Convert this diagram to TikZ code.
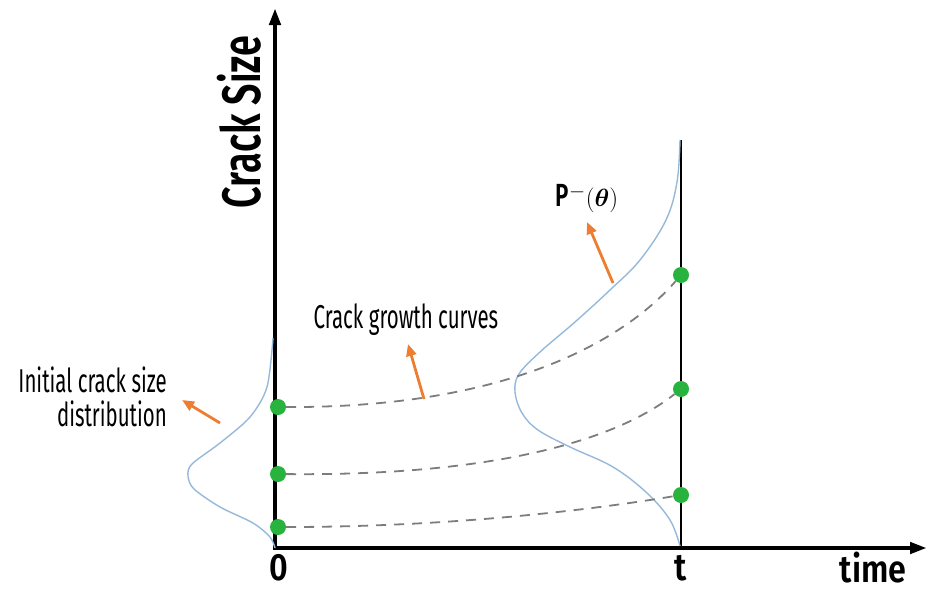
\documentclass[tikz,border=0pt]{standalone}
\usepackage{fontspec}
\usepackage{bm}
\usetikzlibrary{positioning,arrows.meta}
\newfontfamily\agency[FakeStretch=0.62]{Fira Sans}
\newfontfamily\agencybold[FakeStretch=0.7]{Fira Sans SemiBold}
\newfontfamily\agencywide[FakeStretch=0.85]{Fira Sans SemiBold}
\definecolor{crvblue}{RGB}{150,185,218}
\definecolor{pointer}{RGB}{237,125,49}
\definecolor{dotgreen}{RGB}{40,178,62}
\definecolor{growgray}{RGB}{125,125,125}
\tikzset{
  axisline/.style={line width=4.5pt, -{Triangle[length=17pt,width=11pt]}},
  dot/.style={circle, fill=dotgreen, inner sep=0pt, minimum size=16pt},
  growth/.style={growgray, line width=1.8pt, dash pattern=on 10pt off 8pt},
  pdfcurve/.style={crvblue, line width=1.4pt},
  pointarrow/.style={pointer, line width=2.8pt, -{Triangle[length=12pt,width=10pt]}},
  lbl/.style={font=\agency\fontsize{33}{34}\selectfont, inner sep=0pt},
  axlbl/.style={font=\agencywide\fontsize{38}{42}\selectfont, inner sep=0pt},
}
\begin{document}
\begin{tikzpicture}[x=1pt,y=-1pt]
\useasboundingbox (0,0) rectangle (928,592);
% axes
\coordinate (O) at (275,548);
\coordinate (ytip) at (275,8);
\coordinate (xtip) at (927,548);
\coordinate (tbot) at (681,548);
\coordinate (ttop) at (681,140);
\draw[axisline] ([xshift=-2.2pt]O) -- (xtip);
\draw[axisline] ([yshift=2.2pt]O) -- (ytip);
\draw[line width=2.4pt] (tbot) -- (ttop);
\node[font=\agencybold\fontsize{54}{60}\selectfont, rotate=90, inner sep=0pt] (ylab) at (239,122) {Crack Size};
\node[axlbl] (xlab) at (873,568) {time};
\node[axlbl] (zero) at (279,568) {0};
\node[axlbl] (tlab) at (681,568) {t};
% initial crack size distribution
\draw[pdfcurve] plot[smooth] coordinates {(273,338) (267,387) (250,417) (220,443) (192,464) (188,476) (194,489) (220,507) (253,523) (270,537) (275,548)};
% P^-(theta) at time t
\draw[pdfcurve] plot[smooth, tension=0.6] coordinates {(680,140) (677,182) (666,220) (640,260) (610,290) (575,322) (540,352) (519,374) (515,392) (522,413) (538,430) (570,447) (613,467) (647,493) (670,520) (680,546)};
% crack growth curves
\node[dot] (a1) at (278,407) {};
\node[dot] (a2) at (278,474) {};
\node[dot] (a3) at (278,527) {};
\node[dot] (b1) at (681,275) {};
\node[dot] (b2) at (681,389) {};
\node[dot] (b3) at (681,495) {};
\draw[growth] (a1) .. controls (500,408) and (620,345) .. (b1);
\draw[growth] (a2) .. controls (480,476) and (610,445) .. (b2);
\draw[growth] (a3) .. controls (450,527) and (590,510) .. (b3);
% labels and pointers
\node[lbl, align=right, anchor=east] (initlab) at (167,397) {Initial crack size\\distribution};
\node[lbl] (growlab) at (406,320) {Crack growth curves};
\node[inner sep=0pt] (plab) at (587,199) {{\agencybold\fontsize{32}{34}\selectfont P}\fontsize{29}{32}\selectfont$^{-}(\bm{\theta})$};
\coordinate (p1) at (220,423);
\coordinate (p2) at (424,399);
\coordinate (p3) at (613,283);
\draw[pointarrow] (p1) -- (182,400);
\draw[pointarrow] (p2) -- (408,344);
\draw[pointarrow] (p3) -- (587,222);
\end{tikzpicture}
\end{document}
